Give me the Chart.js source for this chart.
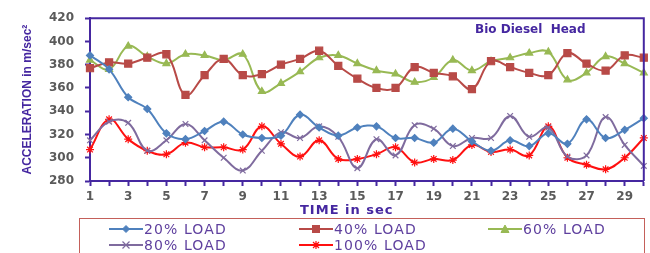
<!DOCTYPE html>
<html>
<head>
<meta charset="utf-8">
<script src="https://cdn.jsdelivr.net/npm/chart.js@4/dist/chart.umd.min.js"></script>
<style>
  body { margin: 0; background: #fff; }
  #wrap { position: relative; width: 650px; height: 253px; overflow: hidden; }
  #chart { position: absolute; left: 0; top: 0; }
  .note { position: absolute; font-family: "DejaVu Sans", sans-serif; font-weight: bold; color: #4527a0; white-space: nowrap; }
  #legend { position: absolute; left: 79px; top: 218px; width: 564px; height: 50px; border: 1px solid #c4605a; }
  .item { position: absolute; height: 16px; display: flex; align-items: center; font-family: "DejaVu Sans", sans-serif;
          font-size: 14px; letter-spacing: 1.1px; color: #5e3f9e; white-space: nowrap; }
  .item svg { margin-right: 1px; }
</style>
</head>
<body>
<div id="wrap">
  <canvas id="chart" width="650" height="253"></canvas>
  <div class="note" style="left:475px; top:22px; font-size:12px;">Bio Diesel&nbsp; Head</div>
  <div class="note" style="left:300px; top:202px; font-size:13px; letter-spacing:1px;">TIME in sec</div>
  <div id="legend"></div>
</div>
<script>
const timeLabels = ['1', '2', '3', '4', '5', '6', '7', '8', '9', '10', '11', '12', '13', '14', '15',
    '16', '17', '18', '19', '20', '21', '22', '23', '24', '25', '26', '27', '28', '29', '30'];
const load20 = [388, 376, 352, 342, 321, 316, 323, 331, 320, 317, 319, 337, 326, 319, 326,
    327, 317, 317, 313, 325, 314, 306, 315, 310, 321, 312, 333, 317, 324, 334];
const load40 = [377, 382, 381, 386, 389, 354, 371, 385, 371, 372, 380, 385, 392, 379, 368,
    360, 360, 378, 373, 370, 359, 383, 378, 373, 371, 390, 381, 375, 388, 386];
const load60 = [384, 376, 396, 387, 381, 389, 388, 384, 389, 357, 364, 374, 386, 388, 381,
    375, 372, 365, 369, 384, 375, 383, 386, 390, 391, 367, 373, 387, 381, 373];
const load80 = [315, 331, 330, 306, 315, 329, 315, 300, 289, 306, 322, 317, 327, 318, 291,
    316, 302, 328, 325, 310, 317, 317, 336, 318, 326, 301, 302, 335, 311, 293];
const load100 = [307, 333, 316, 306, 303, 313, 309, 309, 307, 327, 312, 301, 315, 299, 299,
    303, 309, 296, 299, 298, 311, 305, 307, 302, 327, 300, 294, 290, 300, 317];

const axisColor = '#4527a0';
const tickFont = { family: 'DejaVu Sans', size: 12, weight: 'bold' };

function series(label, data, color, style, radius) {
    return {
        label: label,
        data: data,
        borderColor: color,
        backgroundColor: color,
        pointBackgroundColor: color,
        pointBorderColor: color,
        pointStyle: style,
        pointRadius: radius,
        pointBorderWidth: 1.2,
        borderWidth: 2,
        tension: 0.4,
        clip: false
    };
}

const frame = {
    id: 'frame',
    afterDraw: function (chart) {
        const a = chart.chartArea;
        const ctx = chart.ctx;
        ctx.save();
        ctx.strokeStyle = axisColor;
        ctx.lineWidth = 2;
        ctx.beginPath();
        ctx.moveTo(a.left, a.top);
        ctx.lineTo(a.right, a.top);
        ctx.lineTo(a.right, a.bottom);
        ctx.stroke();
        ctx.restore();
    }
};

new Chart(document.getElementById('chart').getContext('2d'), {
    type: 'line',
    data: {
        labels: timeLabels,
        datasets: [
            series('20% LOAD', load20, '#4f81bd', 'rectRot', 3.5),
            series('40% LOAD', load40, '#b84a47', 'rect', 5),
            series('60% LOAD', load60, '#98b954', 'triangle', 4),
            series('80% LOAD', load80, '#7f6b9e', 'crossRot', 4),
            series('100% LOAD', load100, '#ff1010', 'star', 4)
        ]
    },
    options: {
        responsive: false,
        animation: false,
        layout: { padding: { top: 16, right: 6, left: 0, bottom: 0 } },
        plugins: { legend: { display: false }, tooltip: { enabled: false } },
        scales: {
            x: {
                offset: false,
                afterFit: function (s) { s.height = 72; },
                border: { display: true, color: axisColor, width: 2 },
                grid: { drawOnChartArea: false, drawTicks: true, tickLength: 5, tickColor: axisColor, tickWidth: 2 },
                ticks: {
                    autoSkip: false, maxRotation: 0, padding: 4, color: '#5a5a5a', font: tickFont,
                    callback: function (v, i) { return i % 2 === 0 ? timeLabels[i] : ''; }
                }
            },
            y: {
                min: 280,
                max: 420,
                afterFit: function (s) { s.width = 90; },
                border: { display: true, color: axisColor, width: 2 },
                grid: { drawOnChartArea: false, drawTicks: true, tickLength: 5, tickColor: axisColor, tickWidth: 2 },
                ticks: { stepSize: 20, padding: 11, color: '#5a5a5a', font: tickFont },
                title: {
                    display: true,
                    text: 'ACCELERATION in m/sec²',
                    color: axisColor,
                    font: { family: 'Liberation Sans', size: 12, weight: 'bold' },
                    padding: { top: 20, bottom: 0 }
                }
            }
        }
    },
    plugins: [frame]
});

// legend, Excel style: line sample with marker
const legendItems = [
    { label: '20% LOAD', color: '#4f81bd', mark: '<polygon points="17,1.5 20.5,5 17,8.5 13.5,5"/>', x: 29, y: 2 },
    { label: '40% LOAD', color: '#b84a47', mark: '<rect x="13.5" y="1.5" width="7" height="7"/>', x: 219, y: 2 },
    { label: '60% LOAD', color: '#98b954', mark: '<polygon points="17,1 21,8.5 13,8.5"/>', x: 408, y: 2 },
    { label: '80% LOAD', color: '#7f6b9e', mark: '<path d="M13.5,1.5L20.5,8.5M20.5,1.5L13.5,8.5" fill="none" stroke-width="1.2"/>', x: 29, y: 18 },
    { label: '100% LOAD', color: '#ff1010', mark: '<path d="M13,5H21M17,1V9M14,2L20,8M20,2L14,8" fill="none" stroke-width="1.2"/>', x: 219, y: 18 }
];
const legendEl = document.getElementById('legend');
legendItems.forEach(function (it) {
    const d = document.createElement('div');
    d.className = 'item';
    d.style.left = it.x + 'px';
    d.style.top = it.y + 'px';
    d.innerHTML = '<svg width="34" height="10"><line x1="0" y1="5" x2="34" y2="5" stroke="' + it.color +
        '" stroke-width="2"/><g fill="' + it.color + '" stroke="' + it.color + '">' + it.mark + '</g></svg>' + it.label;
    legendEl.appendChild(d);
});
</script>
</body>
</html>
